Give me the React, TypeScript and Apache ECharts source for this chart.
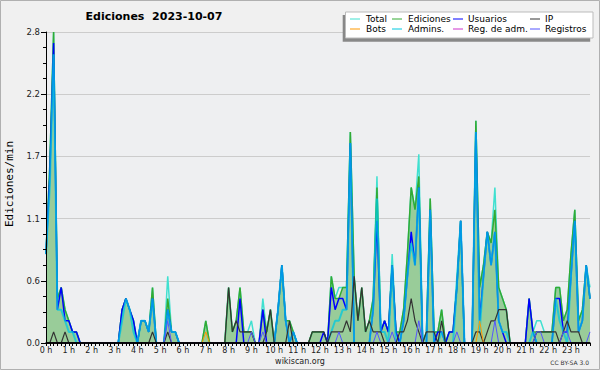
import React, { useEffect, useRef } from "react";
import * as echarts from "echarts";

// 10-minute bins, 144 per day (values in edits/min)
const hourLabels = [
  "0 h", "1 h", "2 h", "3 h", "4 h", "5 h", "6 h", "7 h", "8 h", "9 h", "10 h", "11 h",
  "12 h", "13 h", "14 h", "15 h", "16 h", "17 h", "18 h", "19 h", "20 h", "21 h", "22 h", "23 h",
];
const yTicks = [0, 0.56, 1.12, 1.68, 2.24, 2.8];

const total = [
  0.8, 1.6, 2.8, 0.4, 0.5, 0.3, 0.2, 0.1, 0.1, 0, 0, 0, 0, 0, 0, 0, 0, 0,
  0, 0, 0.3, 0.4, 0.3, 0.2, 0, 0.2, 0.2, 0.1, 0.5, 0, 0, 0, 0.6, 0.1, 0.1, 0,
  0, 0, 0, 0, 0, 0, 0.2, 0, 0, 0, 0, 0, 0.5, 0.1, 0.2, 0.5, 0.1, 0.1,
  0.2, 0, 0, 0.4, 0.1, 0.3, 0, 0.3, 0.7, 0.2, 0.2, 0.1, 0, 0, 0, 0, 0.1, 0.1,
  0.1, 0.1, 0, 0.6, 0.4, 0.5, 0.5, 0.5, 1.9, 0.6, 0.2, 0.5, 0.1, 0.2, 0.4, 1.5, 0.1, 0.2,
  0.1, 0.8, 0.1, 0.1, 0.3, 0.8, 1.4, 1.2, 1.7, 0, 0.1, 1.3, 0.1, 0.1, 0.3, 0, 0.1, 0.1,
  0.6, 1.1, 0, 0, 0, 2.0, 0.5, 0.7, 1.0, 0.9, 1.4, 0.5, 0.4, 0.3, 0, 0, 0, 0,
  0, 0.4, 0.1, 0.2, 0.2, 0.1, 0.1, 0.1, 0.5, 0.5, 0.2, 0.3, 0.8, 1.2, 0.2, 0.3, 0.7, 0.5,
];
const ediciones = [
  0.8, 1.6, 2.8, 0.4, 0.5, 0.3, 0.2, 0.1, 0.1, 0, 0, 0, 0, 0, 0, 0, 0, 0,
  0, 0, 0.3, 0.4, 0.3, 0.2, 0, 0.2, 0.2, 0.1, 0.5, 0, 0, 0, 0.4, 0.1, 0.1, 0,
  0, 0, 0, 0, 0, 0, 0.2, 0, 0, 0, 0, 0, 0.5, 0.1, 0.2, 0.5, 0.1, 0.1,
  0.1, 0, 0, 0.3, 0.1, 0.3, 0, 0.3, 0.7, 0.2, 0.2, 0.1, 0, 0, 0, 0, 0.1, 0.1,
  0.1, 0.1, 0, 0.6, 0.4, 0.4, 0.5, 0.5, 1.9, 0.6, 0.2, 0.5, 0.1, 0.2, 0.4, 1.4, 0.1, 0.2,
  0.1, 0.7, 0.1, 0.1, 0.3, 0.8, 1.4, 1.2, 1.5, 0, 0.1, 1.3, 0.1, 0.1, 0.3, 0, 0.1, 0.1,
  0.5, 1.1, 0, 0, 0, 2.0, 0.5, 0.7, 1.0, 0.9, 1.2, 0.5, 0.4, 0.3, 0, 0, 0, 0,
  0, 0.4, 0.1, 0.1, 0.1, 0.1, 0.1, 0.1, 0.5, 0.5, 0.2, 0.3, 0.8, 1.2, 0.2, 0.3, 0.7, 0.4,
];
const usuarios = [
  0.8, 1.5, 2.7, 0.3, 0.5, 0.2, 0.2, 0.1, 0.1, 0, 0, 0, 0, 0, 0, 0, 0, 0,
  0, 0, 0.3, 0.4, 0.3, 0.2, 0, 0.2, 0.2, 0.1, 0.4, 0, 0, 0, 0.3, 0.1, 0.1, 0,
  0, 0, 0, 0, 0, 0, 0, 0, 0, 0, 0, 0, 0, 0, 0, 0.4, 0, 0,
  0, 0, 0, 0.3, 0, 0, 0, 0.3, 0.7, 0.2, 0, 0.1, 0, 0, 0, 0, 0, 0,
  0, 0.1, 0, 0.5, 0.3, 0.4, 0.4, 0.3, 1.8, 0, 0, 0, 0, 0, 0.3, 1.1, 0.1, 0.2,
  0.1, 0.7, 0.1, 0, 0.2, 0.6, 1.0, 0.7, 1.4, 0, 0, 1.2, 0, 0.1, 0.1, 0, 0.1, 0.1,
  0.5, 1.1, 0, 0, 0, 1.9, 0.2, 0.6, 1.0, 0.7, 1.0, 0.2, 0.1, 0, 0, 0, 0, 0,
  0, 0.4, 0.1, 0, 0, 0, 0, 0, 0.4, 0.4, 0.1, 0.1, 0.6, 1.1, 0.1, 0.2, 0.7, 0.4,
];
const admins = [
  0.8, 1.4, 2.6, 0.3, 0.3, 0.2, 0.1, 0.1, 0, 0, 0, 0, 0, 0, 0, 0, 0, 0,
  0, 0, 0.2, 0.4, 0.3, 0.1, 0, 0.2, 0.2, 0.1, 0.4, 0, 0, 0, 0.3, 0.1, 0.1, 0,
  0, 0, 0, 0, 0, 0, 0, 0, 0, 0, 0, 0, 0, 0, 0, 0, 0, 0,
  0, 0, 0, 0, 0, 0, 0, 0.3, 0.7, 0.2, 0, 0.1, 0, 0, 0, 0, 0, 0,
  0, 0, 0, 0.1, 0.2, 0.2, 0.3, 0.3, 1.8, 0, 0, 0, 0, 0, 0.3, 1.3, 0.1, 0.1,
  0, 0.7, 0, 0, 0.2, 0.6, 0.9, 0.7, 1.4, 0, 0, 1.2, 0, 0, 0.1, 0, 0, 0,
  0.5, 1.1, 0, 0, 0, 1.9, 0.1, 0.6, 1.0, 0.7, 1.0, 0.2, 0.1, 0.1, 0, 0, 0, 0,
  0, 0, 0.1, 0, 0, 0, 0, 0, 0.4, 0.2, 0.1, 0, 0.6, 1.1, 0.1, 0.2, 0.7, 0.4,
];
const ip = [
  0, 0, 0.1, 0, 0, 0.1, 0, 0, 0, 0, 0, 0, 0, 0, 0, 0, 0, 0,
  0, 0, 0, 0, 0, 0, 0, 0, 0, 0, 0.1, 0, 0, 0, 0.1, 0, 0, 0,
  0, 0, 0, 0, 0, 0, 0, 0, 0, 0, 0, 0, 0.5, 0.1, 0.2, 0.1, 0.1, 0.1,
  0.1, 0, 0, 0, 0.1, 0.3, 0, 0, 0, 0, 0.2, 0, 0, 0, 0, 0, 0.1, 0.1,
  0.1, 0.1, 0, 0.1, 0.1, 0.1, 0.1, 0.2, 0.1, 0.6, 0.2, 0.5, 0.1, 0.2, 0.1, 0.1, 0.1, 0,
  0, 0, 0, 0.1, 0.1, 0.2, 0.4, 0.2, 0.1, 0, 0.1, 0.1, 0.1, 0, 0.2, 0, 0, 0,
  0, 0, 0, 0, 0, 0.1, 0.1, 0, 0.1, 0.2, 0.2, 0.3, 0.3, 0.3, 0, 0, 0, 0,
  0, 0, 0, 0.1, 0.1, 0.1, 0.1, 0.1, 0.1, 0, 0.1, 0.2, 0.1, 0.1, 0.1, 0, 0, 0,
];
const bots = [
  0, 0, 0, 0, 0, 0, 0, 0, 0, 0, 0, 0, 0, 0, 0, 0, 0, 0,
  0, 0, 0, 0, 0, 0, 0, 0, 0, 0, 0, 0, 0, 0, 0, 0, 0, 0,
  0, 0, 0, 0, 0, 0, 0.1, 0, 0, 0, 0, 0, 0, 0, 0, 0, 0, 0,
  0, 0, 0, 0, 0, 0, 0, 0, 0, 0, 0, 0, 0, 0, 0, 0, 0, 0,
  0, 0, 0, 0, 0, 0, 0, 0, 0, 0, 0, 0, 0, 0, 0, 0, 0, 0,
  0, 0, 0, 0, 0, 0, 0, 0, 0, 0, 0, 0, 0, 0, 0, 0, 0, 0,
  0, 0, 0, 0, 0, 0, 0.2, 0, 0, 0, 0, 0, 0, 0, 0, 0, 0, 0,
  0, 0, 0, 0, 0, 0, 0, 0, 0, 0, 0, 0, 0, 0, 0, 0, 0, 0,
];
const regAdm = [
  0, 0, 0, 0, 0, 0, 0, 0, 0, 0, 0, 0, 0, 0, 0, 0, 0, 0,
  0, 0, 0, 0, 0, 0, 0, 0, 0, 0, 0, 0, 0, 0, 0, 0, 0, 0,
  0, 0, 0, 0, 0, 0, 0, 0, 0, 0, 0, 0, 0, 0, 0, 0, 0, 0,
  0, 0, 0, 0, 0, 0, 0, 0, 0, 0, 0, 0, 0, 0, 0, 0, 0, 0,
  0, 0, 0, 0, 0, 0, 0, 0, 0, 0, 0, 0, 0, 0, 0, 0, 0, 0,
  0, 0, 0, 0, 0, 0, 0, 0, 0, 0, 0, 0, 0, 0, 0, 0, 0, 0,
  0, 0, 0, 0, 0, 0, 0, 0, 0, 0, 0, 0, 0, 0, 0, 0, 0, 0,
  0, 0, 0, 0, 0, 0, 0, 0, 0, 0, 0, 0, 0, 0, 0, 0, 0, 0,
];
const registros = [
  0, 0, 0, 0, 0, 0, 0, 0, 0, 0, 0, 0, 0, 0, 0, 0, 0, 0,
  0, 0, 0, 0, 0, 0, 0, 0, 0, 0, 0, 0, 0, 0, 0.2, 0, 0, 0,
  0, 0, 0, 0, 0, 0, 0, 0, 0, 0, 0, 0, 0, 0, 0, 0, 0, 0,
  0.1, 0, 0, 0.1, 0, 0, 0, 0, 0, 0, 0, 0, 0, 0, 0, 0, 0, 0,
  0, 0, 0, 0, 0, 0.1, 0, 0, 0, 0, 0, 0, 0, 0, 0, 0.1, 0, 0,
  0, 0.1, 0, 0, 0, 0, 0, 0, 0.2, 0, 0, 0, 0, 0, 0, 0, 0, 0,
  0.1, 0, 0, 0, 0, 0, 0, 0, 0, 0, 0.2, 0, 0, 0, 0, 0, 0, 0,
  0, 0, 0, 0.1, 0.1, 0, 0, 0, 0, 0, 0.1, 0.1, 0, 0, 0, 0, 0, 0.1,
];

const legendNames = ["Total", "Ediciones", "Usuarios", "IP", "Bots", "Admins.", "Reg. de adm.", "Registros"];
const colors = {
  total: "#40e0d0",
  ediciones: "#33aa33",
  edicionesFill: "#99cc99",
  usuarios: "#0000ff",
  ip: "#333333",
  bots: "#ff9900",
  admins: "#00c8e0",
  regAdm: "#cc33cc",
  registros: "#5555ff",
};

export default function App() {
  const ref = useRef<HTMLDivElement>(null);
  useEffect(() => {
    document.body.style.margin = "0";
    const chart = echarts.init(ref.current!, null, { renderer: "svg" });
    const categories = Array.from({ length: 144 }, (_, i) => {
      const h = Math.floor(i / 6);
      const m = (i % 6) * 10;
      return `${h}:${m === 0 ? "00" : m}`;
    });

    const mk = (name: string, data: number[], color: string, width: number, extra: any = {}) => {
      const { lineStyle, ...rest } = extra;
      return {
        type: "line",
        name,
        data,
        z: 2,
        showSymbol: false,
        symbol: "none",
        silent: true,
        lineStyle: { color, width, ...(lineStyle || {}) },
        itemStyle: { color },
        ...rest,
      };
    };

    const legendColors = [
      colors.total, colors.ediciones, colors.usuarios, colors.ip,
      colors.bots, colors.admins, colors.regAdm, colors.registros,
    ];
    const lineX = [350, 392, 453, 530];
    const textX = [366, 408, 468, 545];
    const rowY = [19, 29];
    const legendGraphics: any[] = [];
    legendNames.forEach((n, k) => {
      const col = k % 4;
      const row = Math.floor(k / 4);
      legendGraphics.push({
        type: "line",
        shape: { x1: lineX[col], y1: rowY[row], x2: lineX[col] + 10, y2: rowY[row] },
        style: { stroke: legendColors[k], lineWidth: 1 },
        z: 102,
      });
      legendGraphics.push({
        type: "text",
        x: textX[col],
        y: rowY[row],
        style: {
          text: n,
          font: "9px 'DejaVu Sans'",
          fill: "#000",
          align: "left",
          verticalAlign: "middle",
          textAlign: "left",
          textVerticalAlign: "middle",
        },
        z: 102,
      });
    });

    const option: any = {
      animation: false,
      backgroundColor: "#f0f0f0",
      grid: {
        left: 46,
        right: 10,
        top: 32,
        bottom: 27,
        show: true,
        backgroundColor: "#eeeff1",
        borderWidth: 0,
      },
      xAxis: {
        type: "category",
        data: categories,
        boundaryGap: false,
        z: 10,
        axisLine: { show: true, lineStyle: { color: "#000", width: 1.5 } },
        axisTick: { show: true, interval: 0, length: 3, lineStyle: { color: "#000" } },
        axisLabel: {
          interval: 5,
          margin: 3,
          fontSize: 8,
          fontFamily: "DejaVu Sans",
          color: "#222",
          formatter: (_v: string, idx: number) => (idx % 6 === 0 ? hourLabels[idx / 6] : ""),
        },
        splitLine: { show: false },
      },
      yAxis: [
        {
          type: "value",
          min: 0,
          max: 2.8,
          interval: 0.56,
          z: 10,
          axisLine: { show: true, lineStyle: { color: "#000", width: 1 } },
          axisTick: { show: true, length: 5, lineStyle: { color: "#000" } },
          minorTick: { show: true, splitNumber: 4, length: 3, lineStyle: { color: "#000" } },
          axisLabel: {
            margin: 6,
            fontSize: 8.5,
            fontFamily: "DejaVu Sans",
            color: "#222",
            formatter: (v: number) => {
              const hit = yTicks.find((t) => Math.abs(t - v) < 1e-6);
              return (hit ?? v).toFixed(1);
            },
          },
          splitLine: { show: false },
        },
        {
          type: "value",
          min: 0,
          max: 2.8,
          interval: 0.56,
          position: "left",
          z: 0,
          axisLine: { show: false },
          axisTick: { show: false },
          axisLabel: { show: false },
          splitLine: { show: true, lineStyle: { color: "#cccccc", width: 1 } },
        },
      ],
      series: [
        mk("Total", total, colors.total, 1.5),
        mk("Ediciones", ediciones, colors.ediciones, 1.5, {
          areaStyle: { color: colors.edicionesFill, opacity: 1 },
        }),
        mk("Usuarios", usuarios, colors.usuarios, 1.5),
        mk("Admins.", admins, colors.admins, 2, { lineStyle: { opacity: 0.75 } }),
        mk("IP", ip, colors.ip, 1.2),
        mk("Bots", bots, colors.bots, 1),
        mk("Reg. de adm.", regAdm, colors.regAdm, 1),
        mk("Registros", registros, colors.registros, 1),
      ],
      graphic: [
        {
          type: "rect",
          shape: { x: 0.5, y: 0.5, width: 599, height: 369 },
          style: { fill: "none", stroke: "#b0b0b0", lineWidth: 1 },
          z: 100,
          silent: true,
        },
        {
          type: "line",
          shape: { x1: 46, y1: 343, x2: 590, y2: 343 },
          style: { stroke: "#000000", lineWidth: 1.6 },
          z: 100,
          silent: true,
        },
        {
          type: "text",
          x: 154,
          y: 16,
          style: {
            text: "Ediciones  2023-10-07",
            font: "bold 11px 'DejaVu Sans'",
            fill: "#000",
            align: "center",
            verticalAlign: "middle",
            textAlign: "center",
            textVerticalAlign: "middle",
          },
          z: 100,
        },
        {
          type: "text",
          x: 9,
          y: 184,
          rotation: Math.PI / 2,
          style: {
            text: "Ediciones/min",
            font: "11px 'DejaVu Sans Mono'",
            fill: "#000",
            align: "center",
            verticalAlign: "middle",
            textAlign: "center",
            textVerticalAlign: "middle",
          },
          z: 100,
        },
        {
          type: "text",
          x: 300,
          y: 361,
          style: {
            text: "wikiscan.org",
            font: "8px 'DejaVu Sans'",
            fill: "#222",
            align: "center",
            verticalAlign: "middle",
            textAlign: "center",
            textVerticalAlign: "middle",
          },
          z: 100,
        },
        {
          type: "text",
          x: 589,
          y: 362,
          style: {
            text: "CC BY-SA 3.0",
            font: "6px 'DejaVu Sans'",
            fill: "#333",
            align: "right",
            verticalAlign: "middle",
            textAlign: "right",
            textVerticalAlign: "middle",
          },
          z: 100,
        },
        {
          type: "rect",
          shape: { x: 342.7, y: 15, width: 247.5, height: 26.7 },
          style: { fill: "#888888" },
          z: 100,
          silent: true,
        },
        {
          type: "rect",
          shape: { x: 345.5, y: 12, width: 247.5, height: 26 },
          style: { fill: "#ffffff", stroke: "#bbbbbb", lineWidth: 1 },
          z: 101,
          silent: true,
        },
        ...legendGraphics,
      ],
    };
    chart.setOption(option);
    return () => chart.dispose();
  }, []);
  return <div ref={ref} style={{ width: 600, height: 370 }} />;
}
